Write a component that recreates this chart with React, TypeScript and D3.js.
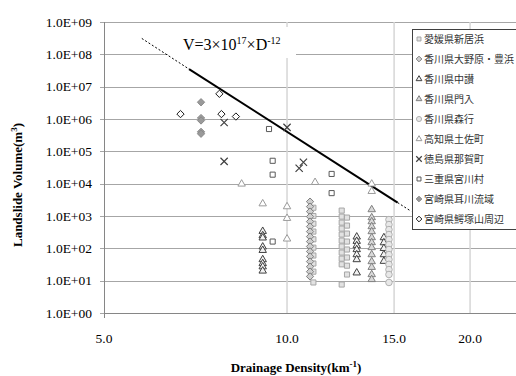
import React from 'react';
import * as d3 from 'd3';

const W = 516;
const H = 376;

// drainage density (km^-1) / landslide volume (m^3)
const seriesNames = [
  '愛媛県新居浜', '香川県大野原・豊浜', '香川県中讃', '香川県門入', '香川県森行',
  '高知県土佐町', '徳島県那賀町', '三重県宮川村', '宮崎県耳川流域', '宮崎県鰐塚山周辺',
];

const niihama: [number, number][] = [
  [11.05, 1800], [11.05, 1000], [11.05, 580], [11.05, 330], [11.05, 190], [11.05, 105],
  [11.05, 60], [11.05, 34], [11.05, 19], [11.05, 8.8],
  [12.3, 1470], [12.3, 958], [12.3, 625], [12.3, 408], [12.3, 267], [12.3, 174],
  [12.3, 114], [12.3, 74], [12.3, 48], [12.3, 32], [12.3, 7.6],
  [12.55, 893], [12.55, 505], [12.55, 286], [12.55, 162], [12.55, 92], [12.55, 52],
  [12.55, 29], [12.55, 15.5],
];
const ohnohara: [number, number][] = [
  [10.91, 2780], [10.91, 1950], [10.91, 1370], [10.91, 958], [10.91, 671], [10.91, 471],
  [10.91, 330], [10.91, 231], [10.91, 162], [10.91, 114], [10.91, 80], [10.91, 56],
  [10.91, 39], [10.91, 27], [10.91, 19], [10.91, 13.5],
];
const chusan: [number, number][] = [
  [9.12, 337], [9.12, 248], [9.12, 211], [9.12, 111], [9.12, 87], [9.12, 45],
  [9.12, 34], [9.12, 27], [9.12, 20],
  [13.02, 226], [13.02, 166], [13.02, 122], [13.02, 92], [13.02, 64], [13.02, 45], [13.02, 17.5],
  [14.43, 215], [14.43, 150], [14.43, 100], [14.43, 64], [14.43, 40],
];
const kadoiri: [number, number][] = [
  [13.78, 1580], [13.78, 893], [13.78, 671], [13.78, 471], [13.78, 330], [13.78, 215],
  [13.78, 151], [13.78, 106], [13.78, 64], [13.78, 39], [13.78, 26], [13.78, 15.5], [13.78, 10.9],
];
const moriyuki: [number, number][] = [
  [14.71, 774], [14.71, 543], [14.71, 380], [14.71, 267], [14.71, 187], [14.71, 131],
  [14.71, 92], [14.71, 64], [14.71, 45], [14.71, 32], [14.71, 22], [14.71, 15.5], [14.71, 8.8],
];
const tosa: [number, number][] = [
  [8.42, 9800], [9.12, 2400], [10.0, 1950], [10.0, 850], [10.0, 196], [11.12, 11000],
  [13.78, 9800], [13.78, 5800],
];
const naka: [number, number][] = [
  [7.88, 780000], [7.88, 49000], [10.0, 550000], [10.64, 46000], [10.47, 30000],
];
const miyagawa: [number, number][] = [
  [9.34, 490000], [9.47, 51000], [9.47, 19000], [11.84, 20000], [11.84, 5100], [9.47, 162],
];
const mimikawa: [number, number][] = [
  [7.22, 3300000], [7.22, 1070000], [7.22, 900000], [7.22, 400000], [7.22, 350000],
];
const wanitsuka: [number, number][] = [
  [6.68, 1420000], [7.74, 6000000], [7.8, 1420000], [8.24, 1190000],
];

const seriesData = [niihama, ohnohara, chusan, kadoiri, moriyuki, tosa, naka, miyagawa, mimikawa, wanitsuka];

// fitted line V=3x10^17 x D^-12 (dashed / solid / dashed)
const trendD = [5.77, 6.9, 15.2, 16.0];
const trendV = [3.1e8, 3.5e7, 2600, 1400];

const xTicks = [5, 10, 15, 20];
const xGrid = [10, 15, 20];
const yTicks = d3.range(0, 10).map((e) => Math.pow(10, e));

type Style = { type: d3.SymbolType; size: number; fill: string; stroke: string; sw: number };
const styles: Style[] = [
  { type: d3.symbolSquare, size: 26, fill: '#e2e2e2', stroke: '#a6a6a6', sw: 1 },
  { type: d3.symbolDiamond2, size: 34, fill: '#cfcfcf', stroke: '#7f7f7f', sw: 1 },
  { type: d3.symbolTriangle, size: 24, fill: '#f2f2f2', stroke: '#404040', sw: 1 },
  { type: d3.symbolTriangle, size: 24, fill: '#d9d9d9', stroke: '#808080', sw: 1 },
  { type: d3.symbolCircle, size: 34, fill: '#e8e8e8', stroke: '#b0b0b0', sw: 1 },
  { type: d3.symbolTriangle, size: 24, fill: '#ffffff', stroke: '#9a9a9a', sw: 1 },
  { type: d3.symbolX, size: 36, fill: 'none', stroke: '#404040', sw: 1.2 },
  { type: d3.symbolSquare, size: 26, fill: '#ffffff', stroke: '#595959', sw: 1 },
  { type: d3.symbolDiamond2, size: 34, fill: '#9a9a9a', stroke: '#8a8a8a', sw: 1 },
  { type: d3.symbolDiamond2, size: 34, fill: '#ffffff', stroke: '#1a1a1a', sw: 1 },
];

const serif = '"Liberation Serif", "Times New Roman", serif';
const jp = '"Noto Sans CJK JP", sans-serif';

export default function App() {
  const x = d3.scaleLog().domain([5, 25]).range([104, 529]);
  const y = d3.scaleLog().domain([1, 1e9]).range([313, 22]);
  const trend = d3.line<number>().x((d) => x(trendD[d])).y((d) => y(trendV[d]));

  return (
    <div style={{ position: 'absolute', left: 0, top: 0 }}>
      <svg width={W} height={H} style={{ display: 'block', background: '#fff' }}>
        {yTicks.map((t) => (
          <line key={'hg' + t} x1={100} x2={530} y1={Math.round(y(t)) + 0.5} y2={Math.round(y(t)) + 0.5} stroke="#a6a6a6" />
        ))}
        {xGrid.map((t) => (
          <line key={'vg' + t} x1={x(t)} x2={x(t)} y1={22} y2={313} stroke="#d6d6d6" strokeWidth={1.5} />
        ))}
        <line x1={104.5} x2={104.5} y1={22} y2={313} stroke="#868686" />
        <line x1={104} x2={530} y1={313.5} y2={313.5} stroke="#868686" />
        <line x1={104.5} x2={104.5} y1={313} y2={318} stroke="#868686" />

        {yTicks.map((t) => (
          <text key={'yl' + t} x={92} y={y(t)} dy="0.35em" textAnchor="end" fontFamily={serif} fontSize={13.5} fill="#000">
            {'1.0E+' + d3.format('02d')(Math.log10(t))}
          </text>
        ))}
        {xTicks.map((t) => (
          <text key={'xl' + t} x={x(t)} y={343} textAnchor="middle" fontFamily={serif} fontSize={13.5} fill="#000">
            {d3.format('.1f')(t)}
          </text>
        ))}

        <text x={296} y={372} textAnchor="middle" fontFamily={serif} fontSize={13} fontWeight="bold">
          Drainage Density(km<tspan dy={-5} fontSize={9}>-1</tspan><tspan dy={5}>)</tspan>
        </text>
        <text transform="translate(22,185) rotate(-90)" textAnchor="middle" fontFamily={serif} fontSize={13} fontWeight="bold">
          Landslide Volume(m<tspan dy={-5} fontSize={9}>3</tspan><tspan dy={5}>)</tspan>
        </text>

        <rect x={168} y={27} width={128} height={31} fill="#fff" />
        <text x={183} y={50} fontFamily={serif} fontSize={16} fill="#000">
          V=3×10<tspan dy={-6} fontSize={10}>17</tspan><tspan dy={6}>×D</tspan><tspan dy={-6} fontSize={10}>-12</tspan>
        </text>

        <path d={trend([0, 1]) || ''} fill="none" stroke="#000" strokeWidth={1} strokeDasharray="2,2" />
        <path d={trend([1, 2]) || ''} fill="none" stroke="#000" strokeWidth={2} />
        <path d={trend([2, 3]) || ''} fill="none" stroke="#000" strokeWidth={1} strokeDasharray="2,2" />

        {seriesData.map((pts, i) => {
          const s = styles[i];
          const sym = d3.symbol().type(s.type).size(s.size)() || '';
          return (
            <g key={'s' + i}>
              {pts.map((p, j) => (
                <path key={j} d={sym} transform={`translate(${x(p[0])},${y(p[1])})`} fill={s.fill} stroke={s.stroke} strokeWidth={s.sw} />
              ))}
            </g>
          );
        })}

        <rect x={412.5} y={29.5} width={120} height={200} fill="#fff" stroke="#404040" />
        {seriesNames.map((name, i) => {
          const s = styles[i];
          const sym = d3.symbol().type(s.type).size(s.size * 0.6)() || '';
          const cy = 39 + i * 20;
          return (
            <g key={'lg' + i}>
              <path d={sym} transform={`translate(419,${cy})`} fill={s.fill} stroke={s.stroke} strokeWidth={s.sw} />
              <text x={424} y={cy} dy="0.36em" fontFamily={jp} fontSize={10} fill="#333">
                {name}
              </text>
            </g>
          );
        })}
      </svg>
    </div>
  );
}
